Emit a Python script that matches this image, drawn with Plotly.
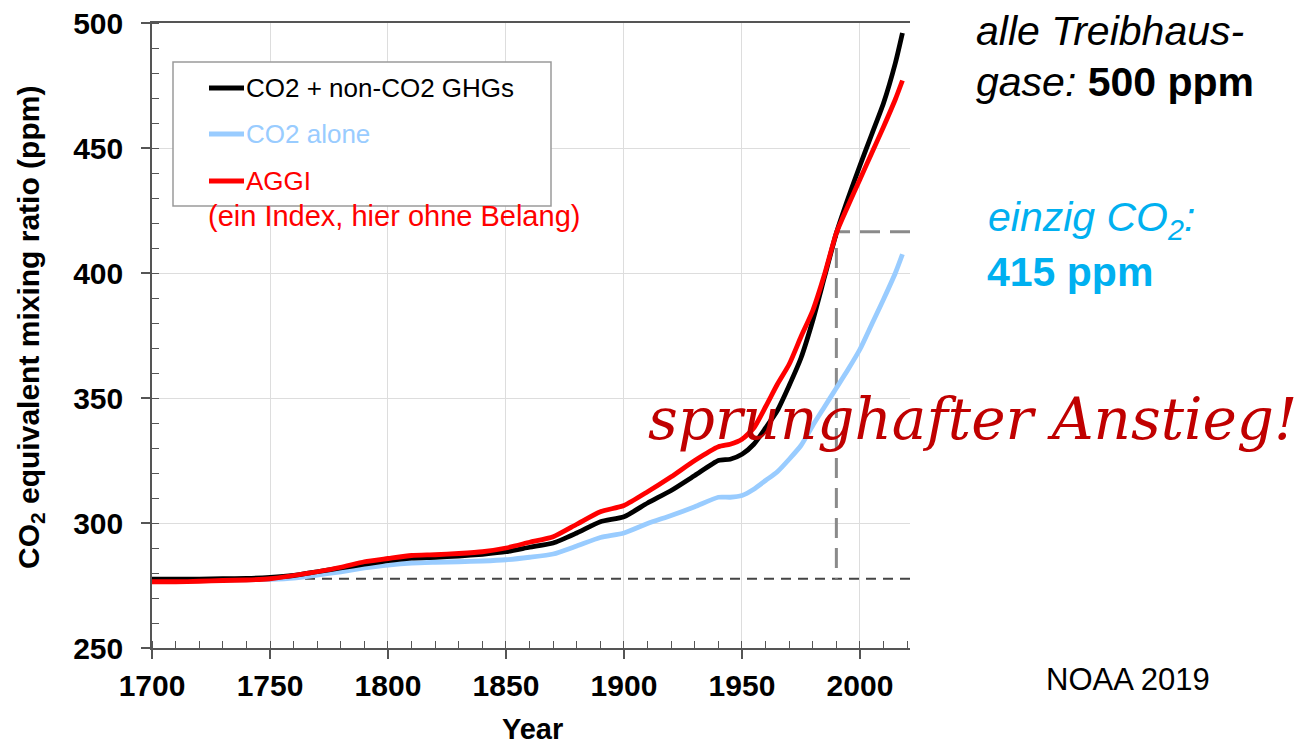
import plotly.graph_objects as go

# ---------------- data ----------------
years = [1700, 1710, 1720, 1730, 1740, 1750, 1760, 1770, 1780, 1790, 1800, 1810,
         1820, 1830, 1840, 1850, 1860, 1870, 1880, 1890, 1900, 1910, 1920, 1930,
         1940, 1945, 1950, 1955, 1960, 1965, 1970, 1975, 1980, 1985, 1990, 1995,
         2000, 2005, 2010, 2015, 2018]

co2_plus_non_co2 = [277.5, 277.5, 277.5, 277.7, 277.8, 278.2, 279.0, 280.5, 282.0, 283.5,
                    285.0, 286.0, 286.3, 286.8, 287.5, 288.5, 290.3, 292.0, 296.0, 300.5,
                    302.5, 308.0, 313.0, 319.0, 325.0, 325.5, 327.5, 331.5, 338.0, 345.0,
                    355.0, 366.0, 381.0, 398.5, 416.0, 430.0, 443.0, 455.5, 468.0, 484.0,
                    496.0]

co2_alone = [277.0, 277.0, 277.0, 277.2, 277.3, 277.5, 278.0, 279.2, 280.5, 282.0,
             283.2, 284.0, 284.3, 284.5, 284.8, 285.3, 286.3, 287.6, 290.8, 294.2,
             296.0, 299.8, 303.0, 306.5, 310.3, 310.3, 311.0, 313.5, 317.0, 320.5,
             325.5, 331.0, 339.0, 346.5, 354.0, 361.5, 369.5, 379.5, 389.5, 400.0,
             407.5]

aggi = [276.5, 276.5, 276.7, 277.0, 277.2, 277.7, 279.0, 280.5, 282.3, 284.5,
        285.8, 287.0, 287.3, 287.8, 288.5, 290.0, 292.3, 294.5, 299.5, 304.5,
        307.0, 312.5, 318.5, 325.0, 330.5, 331.5, 333.5, 338.0, 346.5, 355.5,
        363.5, 374.5, 385.0, 399.5, 416.0, 427.0, 437.5, 448.0, 458.5, 469.5,
        477.0]

baseline_ppm = 277.7      # pre-industrial reference
mark_year = 1990
mark_ppm = 416.5
x_range = [1700, 2021.2]
y_range = [250, 500]
y_ticks = [250, 300, 350, 400, 450, 500]
x_ticks = [1700, 1750, 1800, 1850, 1900, 1950, 2000]
aggi_axis_range = [0, 9]

# ---------------- layout constants (screen pixels) ----------------
PAGE_OFF = 8                  # default body margin of the html page
W, H = 1307 - PAGE_OFF, 748 - PAGE_OFF
L, R, T, B = 152, 910, 23, 648   # plot area in screen pixels


def px(xp):
    return (xp - L) / (R - L)


def py(yp):
    return (B - yp) / (B - T)


FONT = "Liberation Sans, Arial, sans-serif"
BLACK = "#000000"
LBLUE = "#99CCFF"
RED = "#FF0000"
CYAN = "#00B0F0"
DARKRED = "#C00000"
AXC = "#555555"

fig = go.Figure()

# reference dashed lines
fig.add_trace(go.Scatter(x=x_range, y=[baseline_ppm, baseline_ppm], mode="lines",
                         line=dict(color="#444444", width=2.2, dash="10px,7px"),
                         hoverinfo="skip", showlegend=False))
fig.add_trace(go.Scatter(x=[x_range[1], mark_year, mark_year],
                         y=[mark_ppm, mark_ppm, baseline_ppm], mode="lines",
                         line=dict(color="#8A8A8A", width=3, dash="20px,10px"),
                         hoverinfo="skip", showlegend=False))

# data series
fig.add_trace(go.Scatter(x=years, y=co2_alone, mode="lines", name="CO2 alone",
                         line=dict(color=LBLUE, width=4.8, shape="spline", smoothing=0.6),
                         showlegend=False))
fig.add_trace(go.Scatter(x=years, y=co2_plus_non_co2, mode="lines",
                         name="CO2 + non-CO2 GHGs",
                         line=dict(color=BLACK, width=4.8, shape="spline", smoothing=0.6),
                         showlegend=False))
fig.add_trace(go.Scatter(x=years, y=aggi, mode="lines", name="AGGI",
                         line=dict(color=RED, width=4.8, shape="spline", smoothing=0.6),
                         showlegend=False))

axis_common = dict(showgrid=True, gridcolor="#DDDDDD", gridwidth=1, zeroline=False,
                   linecolor=AXC, linewidth=1.5, showline=True, automargin=False,
                   ticks="outside", tickcolor=AXC, tickwidth=1.5, ticklen=9,
                   ticklabeloverflow="allow",
                   tickfont=dict(family=FONT, size=30, color="#000000", weight="bold"))

fig.update_layout(
    width=W, height=H,
    margin=dict(l=L - PAGE_OFF, r=W - (R - PAGE_OFF), t=T - PAGE_OFF,
                b=H - (B - PAGE_OFF), pad=0, autoexpand=False),
    paper_bgcolor="white", plot_bgcolor="white",
    showlegend=False,
    xaxis=dict(range=x_range, tickvals=x_ticks, mirror=True,
               minor=dict(ticks="inside", dtick=10, tick0=1700, ticklen=7,
                          tickcolor=AXC, tickwidth=1.2, showgrid=False),
               ticklabelstandoff=1,
               **axis_common),
    yaxis=dict(range=y_range, tickvals=y_ticks,
               minor=dict(ticks="inside", dtick=10, tick0=250, ticklen=7,
                          tickcolor=AXC, tickwidth=1.2, showgrid=False),
               ticklabelstandoff=12,
               **axis_common),
    yaxis2=dict(range=aggi_axis_range, overlaying="y", side="right", dtick=1,
                showgrid=False, zeroline=False, showline=True, linecolor=AXC,
                linewidth=1.5, ticks="outside", ticklen=9, tickcolor=AXC,
                tickwidth=1.5, showticklabels=False, automargin=False,
                minor=dict(ticks="inside", dtick=0.2, ticklen=7, tickcolor=AXC,
                           tickwidth=1.2)),
)

# ---------- manual legend box ----------
fig.add_shape(type="rect", xref="paper", yref="paper",
              x0=px(173), x1=px(551), y0=py(206), y1=py(62),
              line=dict(color="#9A9A9A", width=1.5), fillcolor="white", layer="above")
legend_items = [("CO2 + non-CO2 GHGs", BLACK, 88), ("CO2 alone", LBLUE, 134),
                ("AGGI", RED, 181)]
for label, col, yy in legend_items:
    fig.add_shape(type="line", xref="paper", yref="paper",
                  x0=px(209), x1=px(244), y0=py(yy), y1=py(yy),
                  line=dict(color=col, width=4.8), layer="above")
    fig.add_annotation(xref="paper", yref="paper", x=px(244), y=py(yy),
                       xanchor="left", yanchor="middle", showarrow=False, text=label,
                       font=dict(family=FONT, size=26, color=col))
fig.add_annotation(xref="paper", yref="paper", x=px(206), y=py(216),
                   xanchor="left", yanchor="middle", showarrow=False,
                   text="(ein Index, hier ohne Belang)",
                   font=dict(family=FONT, size=29, color=RED))

# ---------- axis titles ----------
fig.add_annotation(xref="paper", yref="paper", x=px(30), y=py(328),
                   xanchor="center", yanchor="middle", showarrow=False, textangle=-90,
                   text="CO<sub>2</sub> equivalent mixing ratio (ppm)",
                   font=dict(family=FONT, size=30, color=BLACK, weight="bold"))
fig.add_annotation(xref="paper", yref="paper", x=px(532), y=py(729),
                   xanchor="center", yanchor="middle", showarrow=False, text="Year",
                   font=dict(family=FONT, size=29, color=BLACK, weight="bold"))

# ---------- right-hand texts ----------
fig.add_annotation(xref="paper", yref="paper", x=px(974), y=py(31),
                   xanchor="left", yanchor="middle", showarrow=False,
                   text="<i>alle Treibhaus-</i>",
                   font=dict(family=FONT, size=41, color=BLACK))
fig.add_annotation(xref="paper", yref="paper", x=px(974), y=py(82),
                   xanchor="left", yanchor="middle", showarrow=False,
                   text="<i>gase:</i> <b>500 ppm</b>",
                   font=dict(family=FONT, size=41, color=BLACK))
fig.add_annotation(xref="paper", yref="paper", x=px(986), y=py(220),
                   xanchor="left", yanchor="middle", showarrow=False,
                   text="<i>einzig CO<sub>2</sub>:</i>",
                   font=dict(family=FONT, size=41, color=CYAN))
fig.add_annotation(xref="paper", yref="paper", x=px(985), y=py(272),
                   xanchor="left", yanchor="middle", showarrow=False,
                   text="<b>415 ppm</b>",
                   font=dict(family=FONT, size=41, color=CYAN))
fig.add_annotation(xref="paper", yref="paper", x=px(1044), y=py(679),
                   xanchor="left", yanchor="middle", showarrow=False,
                   text="NOAA 2019",
                   font=dict(family=FONT, size=31, color=BLACK))
fig.add_annotation(xref="paper", yref="paper", x=px(972), y=py(419),
                   xanchor="center", yanchor="middle", showarrow=False,
                   text="<i>sprunghafter Anstieg!</i>",
                   font=dict(family="DejaVu Serif, serif", size=58, color=DARKRED))

fig.write_html("out.html")
